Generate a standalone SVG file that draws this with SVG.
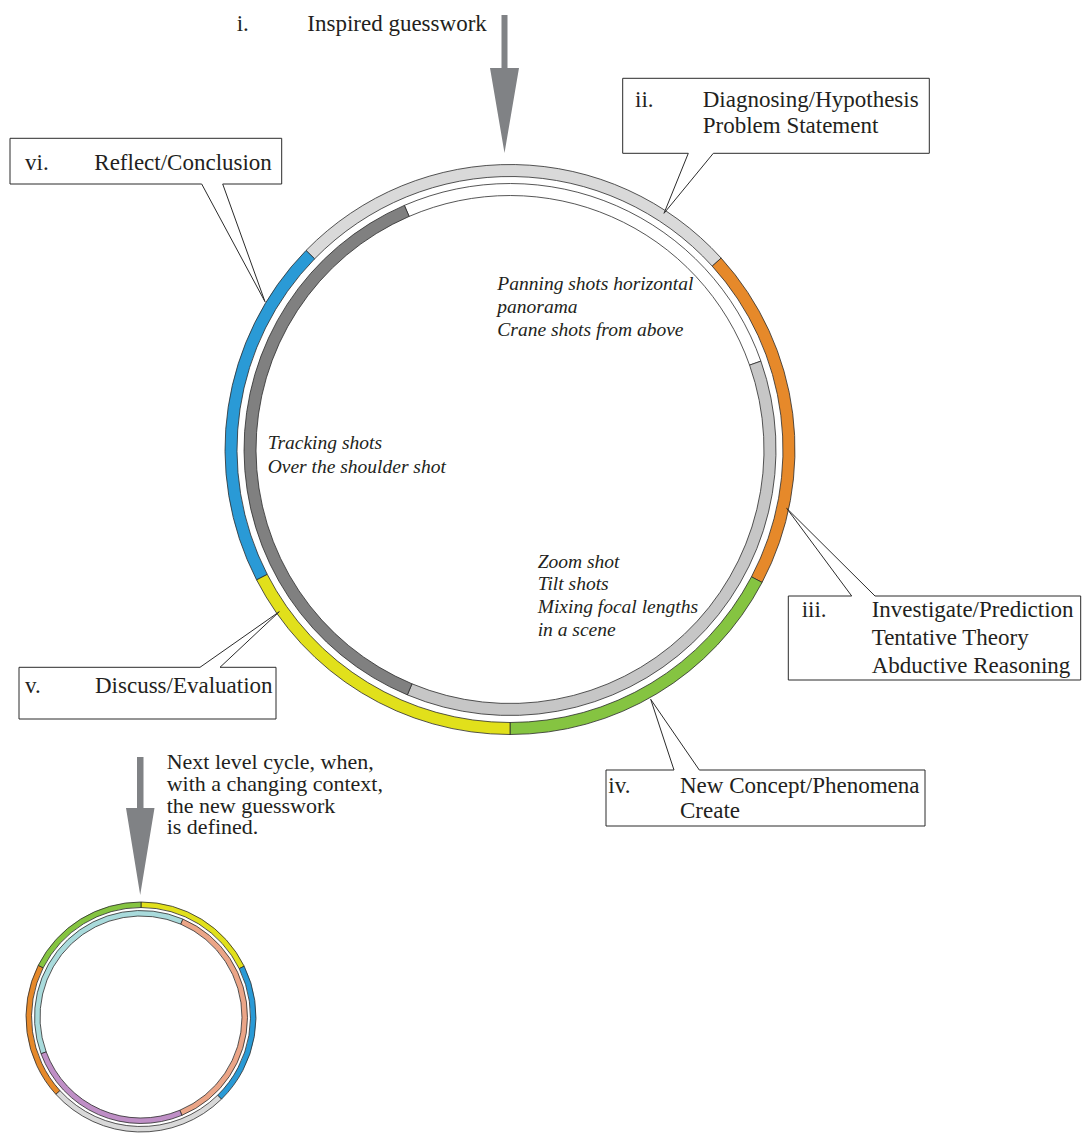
<svg xmlns="http://www.w3.org/2000/svg" width="1088" height="1135" viewBox="0 0 1088 1135">
<style>
text{font-family:"Liberation Serif","Times New Roman",serif;fill:#231f20}
.t{font-size:23px}
.n{font-size:22px}
.it{font-size:19.5px;font-style:italic}
.seg{stroke:#2b2b2b;stroke-width:0.8;stroke-linejoin:round}
.box{fill:#fff;stroke:#2b2b2b;stroke-width:1}
.arrow{fill:#808285}
.gl{fill:#d9d9d9}.or{fill:#e6892a}.gr{fill:#85c441}.ye{fill:#e1e01b}.bl{fill:#2a9ad6}
.wh{fill:#fff}.lg{fill:#c6c6c6}.dg{fill:#808080}
.te{fill:#a9dbdc}.sa{fill:#eba587}.pu{fill:#bf8fc6}
</style>
<rect width="1088" height="1135" fill="#fff"/>

<g id="start-arrow">
<polygon class="arrow" points="501.5,15 507.5,15 507.5,68 519,68 504.5,153 490,68 501.5,68"/>
<text class="t" x="236.7" y="30.7">i.</text>
<text class="t" x="307.3" y="30.7">Inspired guesswork</text>
</g>

<g id="main-cycle">
<g id="outer-ring">
<path class="seg gl" d="M306.03,250.46 A285,285 0 0 1 721.13,258.07 L712.24,266.13 A273,273 0 0 0 314.61,258.84 Z"/>
<path class="seg or" d="M721.13,258.07 A285,285 0 0 1 762.08,582.42 L751.47,576.83 A273,273 0 0 0 712.24,266.13 Z"/>
<path class="seg gr" d="M762.08,582.42 A285,285 0 0 1 510,734.5 L510,722.5 A273,273 0 0 0 751.47,576.83 Z"/>
<path class="seg ye" d="M510,734.5 A285,285 0 0 1 256.52,579.77 L267.19,574.29 A273,273 0 0 0 510,722.5 Z"/>
<path class="seg bl" d="M256.52,579.77 A285,285 0 0 1 306.03,250.46 L314.61,258.84 A273,273 0 0 0 267.19,574.29 Z"/>
</g>
<g id="inner-ring">
<path class="seg wh" d="M404.37,205.39 A266,266 0 0 1 760.89,361.13 L749.57,365.12 A254,254 0 0 0 409.14,216.40 Z"/>
<path class="seg lg" d="M760.89,361.13 A266,266 0 0 1 407.35,694.89 L411.98,683.82 A254,254 0 0 0 749.57,365.12 Z"/>
<path class="seg dg" d="M407.35,694.89 A266,266 0 0 1 404.37,205.39 L409.14,216.40 A254,254 0 0 0 411.98,683.82 Z"/>
</g>
<g id="shot-texts">
<text class="it" x="497.3" y="290">Panning shots horizontal</text>
<text class="it" x="497.3" y="313.3">panorama</text>
<text class="it" x="497.3" y="335.7">Crane shots from above</text>
<text class="it" x="267.7" y="449.3">Tracking shots</text>
<text class="it" x="267.7" y="472.7">Over the shoulder shot</text>
<text class="it" x="537.7" y="567.7">Zoom shot</text>
<text class="it" x="537.7" y="590">Tilt shots</text>
<text class="it" x="537.7" y="613.3">Mixing focal lengths</text>
<text class="it" x="537.7" y="635.7">in a scene</text>
</g>
</g>

<g id="connectors">
<g id="callout-ii">
<path class="box" d="M622.7,78.3 H929.3 V153.3 H713.3 L664,213.3 L688.3,153.3 H622.7 Z"/>
<text class="t" x="635" y="107.3">ii.</text>
<text class="t" x="702.7" y="107.3">Diagnosing/Hypothesis</text>
<text class="t" x="702.7" y="133.3">Problem Statement</text>
</g>
<g id="callout-iii">
<path class="box" d="M788.3,596 H851.7 L786.7,508.3 L875,596 H1080.7 V680 H788.3 Z"/>
<text class="t" x="801.7" y="616.7">iii.</text>
<text class="t" x="871.7" y="616.7">Investigate/Prediction</text>
<text class="t" x="871.7" y="645">Tentative Theory</text>
<text class="t" x="871.7" y="672.7">Abductive Reasoning</text>
</g>
<g id="callout-iv">
<path class="box" d="M606,770 H674 L650.7,699.3 L699.3,770 H925 V826 H606 Z"/>
<text class="t" x="608.3" y="793.3">iv.</text>
<text class="t" x="680" y="793.3">New Concept/Phenomena</text>
<text class="t" x="680" y="818.3">Create</text>
</g>
<g id="callout-v">
<path class="box" d="M19,667.3 H200 L279.3,611.7 L220,667.3 H276 V719 H19 Z"/>
<text class="t" x="25" y="692.7">v.</text>
<text class="t" x="95" y="692.7">Discuss/Evaluation</text>
</g>
<g id="callout-vi">
<path class="box" d="M10,138.3 H281.7 V184 H222.7 L265,301.7 L201.7,184 H10 Z"/>
<text class="t" x="25" y="170">vi.</text>
<text class="t" x="94.3" y="170">Reflect/Conclusion</text>
</g>
</g>

<g id="next-arrow">
<polygon class="arrow" points="137,757 143.5,757 143.5,808 154.5,808 140.2,895 126,808 137,808"/>
<text class="n" x="166.7" y="769.3"><tspan x="166.7" y="769.3">Next level cycle, when,</tspan><tspan x="166.7" y="791">with a changing context,</tspan><tspan x="166.7" y="812.7">the new guesswork</tspan><tspan x="166.7" y="834">is defined.</tspan></text>
</g>

<g id="next-cycle">
<path class="seg ye" d="M141,902 A115,115 0 0 1 244.18,966.23 L239.25,968.66 A109.5,109.5 0 0 0 141,907.5 Z"/>
<path class="seg bl" d="M244.18,966.23 A115,115 0 0 1 221.47,1099.16 L217.62,1095.23 A109.5,109.5 0 0 0 239.25,968.66 Z"/>
<path class="seg gl" d="M221.47,1099.16 A115,115 0 0 1 55.81,1094.25 L59.88,1090.55 A109.5,109.5 0 0 0 217.62,1095.23 Z"/>
<path class="seg or" d="M55.81,1094.25 A115,115 0 0 1 38.26,965.33 L43.17,967.80 A109.5,109.5 0 0 0 59.88,1090.55 Z"/>
<path class="seg gr" d="M38.26,965.33 A115,115 0 0 1 141,902 L141,907.5 A109.5,109.5 0 0 0 43.17,967.80 Z"/>
<path class="seg te" d="M41.05,1053.77 A106.5,106.5 0 0 1 182.95,919.12 L180.78,924.17 A101,101 0 0 0 46.21,1051.88 Z"/>
<path class="seg sa" d="M182.95,919.12 A106.5,106.5 0 0 1 181.93,1115.32 L179.81,1110.24 A101,101 0 0 0 180.78,924.17 Z"/>
<path class="seg pu" d="M181.93,1115.32 A106.5,106.5 0 0 1 41.05,1053.77 L46.21,1051.88 A101,101 0 0 0 179.81,1110.24 Z"/>
</g>
</svg>
